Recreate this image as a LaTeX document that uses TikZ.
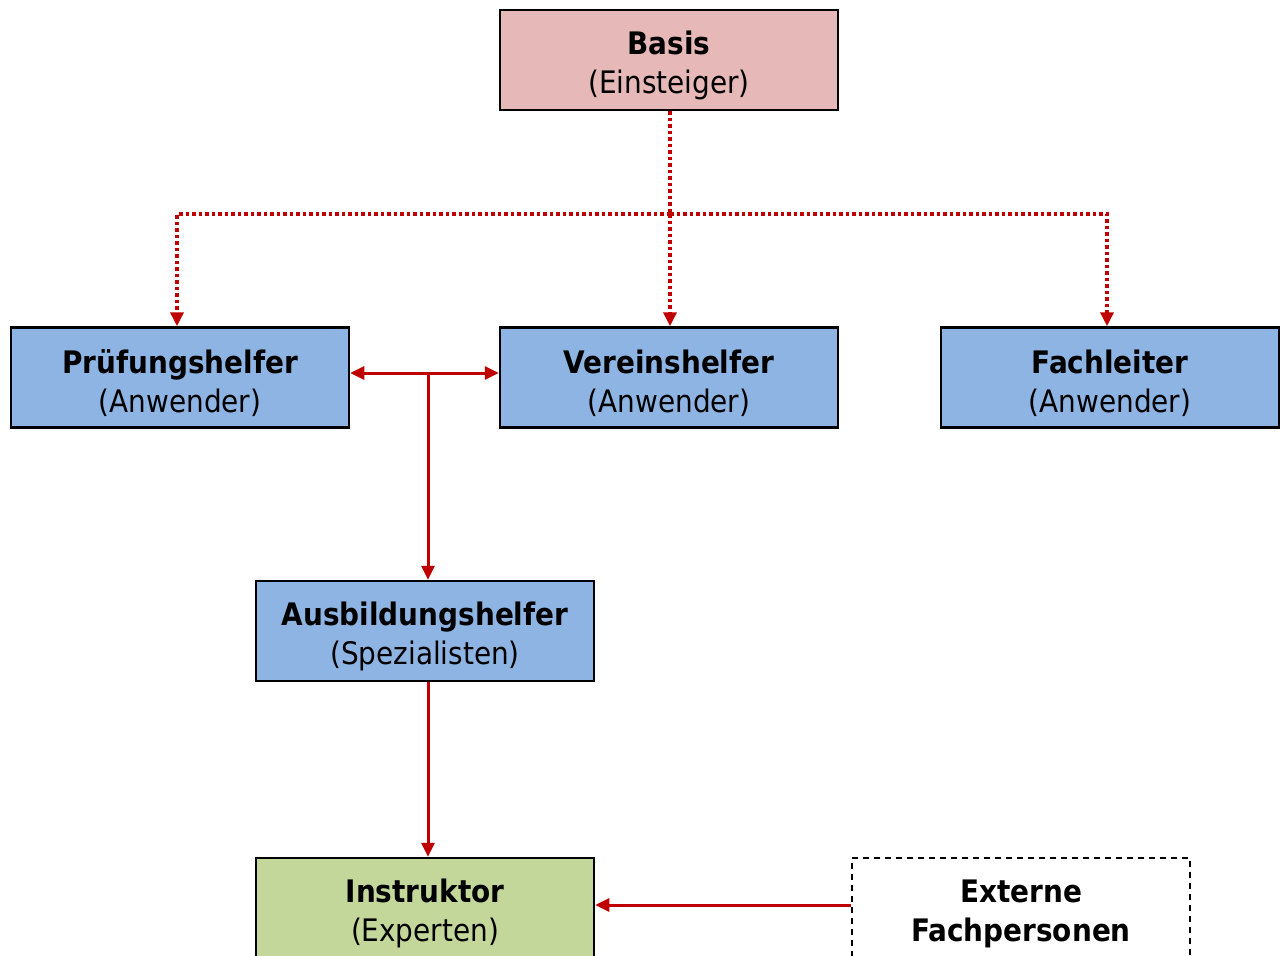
\documentclass[tikz,border=0pt]{standalone}
\usepackage{fontspec}
\setmainfont{DejaVu Sans Condensed}
\usepackage{xcolor}
\usetikzlibrary{arrows.meta,positioning}
\definecolor{linkred}{HTML}{C00000}
\definecolor{basisfill}{HTML}{E6B8B7}
\definecolor{userfill}{HTML}{8DB4E2}
\definecolor{expertfill}{HTML}{C4D79B}
\newcommand{\toprow}{\rule{0pt}{35pt}}
\tikzset{every picture/.style={line width=2pt}}
\tikzset{
  level/.style={draw=black, line width=2.5pt, minimum width=338pt, minimum height=100pt,
    inner sep=0pt, align=center, font=\fontsize{31}{39}\selectfont},
  link/.style={draw=linkred, line width=3pt, -{Triangle[length=14pt,width=13pt]}},
  hint/.style={link, line width=3.5pt, dash pattern=on 3.5pt off 3pt}
}

\begin{document}
\begin{tikzpicture}[x=1pt,y=-1pt]
\useasboundingbox (0,0) rectangle (1281,955);
\node[level, fill=basisfill] (basis) at (669,60) {\toprow\textbf{Basis}\\(Einsteiger)};
\node[level, fill=userfill] (pruef) at (180,377.5) {\toprow\textbf{Prüfungshelfer}\\(Anwender)};
\node[level, fill=userfill] (verein) at (669,377.5) {\toprow\textbf{Vereinshelfer}\\(Anwender)};
\node[level, fill=userfill] (fach) at (1110,377.5) {\toprow\textbf{Fachleiter}\\(Anwender)};
\node[level, fill=userfill] (ausb) at (425,631) {\toprow\textbf{Ausbildungshelfer}\\(Spezialisten)};
\node[level, fill=expertfill] (instr) at (425,908) {\toprow\textbf{Instruktor}\\(Experten)};
\node[level, dashed, dash pattern=on 6pt off 5pt] (extern) at (1021,908) {\toprow\textbf{Externe}\\\textbf{Fachpersonen}};
% dotted lines from the basis
\coordinate (split) at (670,214);
\draw[hint, -] (basis.south -| split) -- (split);
\draw[hint] (split) -| ([xshift=-3pt]pruef.north);
\draw[hint] (split) -| ([xshift=-3pt]fach.north);
\draw[hint] (split) -- (split |- verein.north);
% solid lines
\coordinate (mid) at (428,373);
\draw[link, {Triangle[length=14pt,width=13pt]}-{Triangle[length=14pt,width=13pt]}] ([yshift=4.5pt]pruef.east) -- ([yshift=4.5pt]verein.west);
\draw[link] (mid) -- (mid |- ausb.north);
\draw[link] (ausb.south -| mid) -- (instr.north -| mid);
\draw[link] ([yshift=3pt]extern.west) -- ([yshift=3pt]instr.east);
\end{tikzpicture}
\end{document}
